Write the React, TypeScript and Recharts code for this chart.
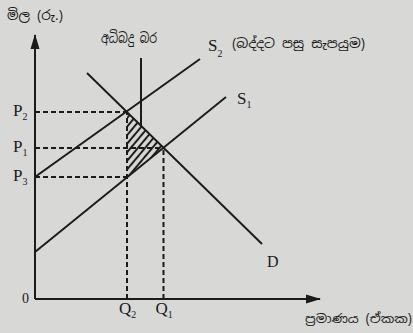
import React from 'react';
import { ComposedChart, Line, Area, XAxis, YAxis, ReferenceLine, ReferenceDot } from 'recharts';

// Quantity / price values (arbitrary units)
const quantityTicks = [92, 128.5];
const quantitySubs = ['2', '1'];
const priceTicks = [0, 122, 151, 187];
const priceSubs = ['', '3', '1', '2'];

const demand = [{ q: 52, p: 226 }, { q: 227, p: 55 }];
const supply1 = [{ q: 0, p: 47 }, { q: 191, p: 202 }];
const supply2 = [{ q: 0, p: 122 }, { q: 165, p: 240 }];
const taxPointer = [{ q: 106, p: 241 }, { q: 106, p: 171 }];
const burden = [
  { q: 92, band: [122, 187] },
  { q: 128.5, band: [151, 151] },
];

const Q2 = quantityTicks[0];
const Q1 = quantityTicks[1];
const P3 = priceTicks[1];
const P1 = priceTicks[2];
const P2 = priceTicks[3];

const INK = '#1b1b1b';
const SERIF = '"Liberation Serif", "DejaVu Serif", serif';
const SINHALA = '"Noto Sans Sinhala", "Noto Serif Sinhala", "Iskoola Pota", "DejaVu Sans", sans-serif';

const PriceTick = (props: any) => {
  const { x, y, payload } = props;
  const i = priceTicks.indexOf(payload.value);
  if (i === 0) {
    return (
      <text x={x - 6} y={y + 4} textAnchor="end" fontFamily={SERIF} fontSize={14} fill={INK}>0</text>
    );
  }
  return (
    <text x={x - 22} y={y + 4} fontFamily={SERIF} fontSize={17} fill={INK}>
      P<tspan dy={4} fontSize={10}>{priceSubs[i]}</tspan>
    </text>
  );
};

const QuantityTick = (props: any) => {
  const { x, y, payload } = props;
  const i = quantityTicks.indexOf(payload.value);
  return (
    <text x={x - 8} y={y + 15} fontFamily={SERIF} fontSize={17} fill={INK}>
      Q<tspan dy={4} fontSize={10}>{quantitySubs[i]}</tspan>
    </text>
  );
};

const arrowUp = (props: any) => {
  const { cx, cy } = props;
  return <polygon points={`${cx},${cy - 1} ${cx - 4.5},${cy + 14} ${cx + 4.5},${cy + 14}`} fill={INK} />;
};
const arrowRight = (props: any) => {
  const { cx, cy } = props;
  return <polygon points={`${cx + 1},${cy} ${cx - 14},${cy - 4.5} ${cx - 14},${cy + 4.5}`} fill={INK} />;
};

const dash = { stroke: INK, strokeWidth: 2, strokeDasharray: '5 3' };

export default function App() {
  return (
    <div style={{ position: 'absolute', left: 0, top: 0, width: 413, height: 333, background: '#d8d8d6', overflow: 'hidden' }}>
      <ComposedChart width={413} height={333} margin={{ top: 35, right: 93, bottom: 4, left: 5 }}>
        <defs>
          <pattern id="hatch" width="5.5" height="6" patternUnits="userSpaceOnUse" patternTransform="rotate(40)">
            <line x1="2.75" y1="0" x2="2.75" y2="6" stroke={INK} strokeWidth={2} />
          </pattern>
        </defs>
        <XAxis
          type="number"
          dataKey="q"
          domain={[0, 285]}
          ticks={quantityTicks}
          interval={0}
          height={30}
          tickLine={false}
          tickSize={0}
          tickMargin={0}
          tick={<QuantityTick />}
          axisLine={{ stroke: INK, strokeWidth: 2 }}
          allowDataOverflow
        />
        <YAxis
          type="number"
          dataKey="p"
          domain={[0, 264]}
          ticks={priceTicks}
          interval={0}
          width={30}
          tickLine={false}
          tickSize={0}
          tickMargin={0}
          tick={<PriceTick />}
          axisLine={{ stroke: INK, strokeWidth: 2 }}
          allowDataOverflow
        />
        <Area
          data={burden}
          dataKey="band"
          type="linear"
          stroke="none"
          fill="url(#hatch)"
          fillOpacity={1}
          isAnimationActive={false}
          activeDot={false}
        />
        <ReferenceLine segment={[{ x: 0, y: P2 }, { x: Q2, y: P2 }]} {...dash} />
        <ReferenceLine segment={[{ x: 0, y: P1 }, { x: Q1, y: P1 }]} {...dash} />
        <ReferenceLine segment={[{ x: 0, y: P3 }, { x: Q2, y: P3 }]} {...dash} />
        <ReferenceLine segment={[{ x: Q2, y: 0 }, { x: Q2, y: P2 }]} {...dash} />
        <ReferenceLine segment={[{ x: Q1, y: 0 }, { x: Q1, y: P1 }]} {...dash} />
        <Line data={demand} dataKey="p" type="linear" stroke={INK} strokeWidth={1.9} dot={false} activeDot={false} isAnimationActive={false} />
        <Line data={supply1} dataKey="p" type="linear" stroke={INK} strokeWidth={1.9} dot={false} activeDot={false} isAnimationActive={false} />
        <Line data={supply2} dataKey="p" type="linear" stroke={INK} strokeWidth={1.9} dot={false} activeDot={false} isAnimationActive={false} />
        <Line data={taxPointer} dataKey="p" type="linear" stroke={INK} strokeWidth={2} dot={false} activeDot={false} isAnimationActive={false} />
        <ReferenceDot x={0} y={264} r={1} ifOverflow="visible" shape={arrowUp} />
        <ReferenceDot x={285} y={0} r={1} ifOverflow="visible" shape={arrowRight} />
      </ComposedChart>
      <svg width={413} height={333} style={{ position: 'absolute', left: 0, top: 0, pointerEvents: 'none' }}>
        <text x={7} y={20} fontFamily={SINHALA} fontSize={13} fill={INK} textLength={56} lengthAdjust="spacingAndGlyphs">මිල (රු.)</text>
        <text x={101} y={43} fontFamily={SINHALA} fontSize={14} fill={INK} textLength={56} lengthAdjust="spacingAndGlyphs">අධිබදු බර</text>
        <text x={208} y={51} fontFamily={SERIF} fontSize={17} fill={INK}>S<tspan dy={6} fontSize={10}>2</tspan></text>
        <text x={232} y={48} fontFamily={SINHALA} fontSize={12.5} fill={INK} textLength={133} lengthAdjust="spacingAndGlyphs">(බද්දට පසු සැපයුම)</text>
        <text x={237} y={104} fontFamily={SERIF} fontSize={17} fill={INK}>S<tspan dy={4} fontSize={10}>1</tspan></text>
        <text x={267} y={267} fontFamily={SERIF} fontSize={16} fill={INK}>D</text>
        <text x={305} y={323} fontFamily={SINHALA} fontSize={12} fill={INK} textLength={107} lengthAdjust="spacingAndGlyphs">ප්‍රමාණය (ඒකක)</text>
      </svg>
    </div>
  );
}
